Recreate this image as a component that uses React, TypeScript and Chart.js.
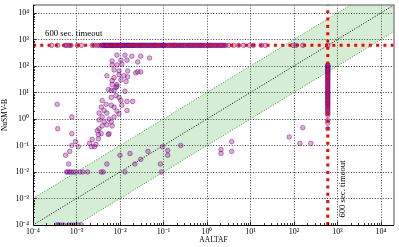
import React, { useEffect, useRef } from 'react';
import { Chart, registerables } from 'chart.js';

Chart.register(...registerables);

const TIMEOUT = 600;
const AXIS_MIN = 1e-4;
const AXIS_MAX = 2e4;
const BAND = 10;
const FONT = 'Liberation Serif';

const tickValues = [1e-4, 1e-3, 1e-2, 1e-1, 1, 10, 100, 1e3, 1e4];
const tickLabels = ['10⁻⁴', '10⁻³', '10⁻²', '10⁻¹', '10⁰', '10¹', '10²', '10³', '10⁴'];

// AALTAF time when NuSMV-B hit the 600 s timeout
const nusmvTimeoutAaltaf = [
  2.7e-4, 3.7e-4, 5.5e-4, 6e-4, 6.8e-4, 7.5e-4, 1.05e-3, 1.3e-3, 2.3e-3, 2.6e-3, 3e-3, 3.4e-3,
  0.0038, 0.0042, 0.0046, 0.005, 0.0055, 0.006, 0.0066, 0.0072, 0.008, 0.0088, 0.0097, 0.011,
  0.012, 0.013, 0.015, 0.016, 0.018, 0.02, 0.022, 0.025, 0.028, 0.031, 0.035, 0.039, 0.044,
  0.05, 0.056, 0.063, 0.07, 0.08, 0.09, 0.1, 0.11, 0.13, 0.15, 0.17, 0.19, 0.22, 0.25, 0.28,
  0.32, 0.37, 0.42, 0.48, 0.55, 0.63, 0.72, 0.82, 0.95, 1.1, 1.25, 1.45, 1.7, 2, 2.3, 2.7, 3.2,
  0.004, 0.0044, 0.0048, 0.0052, 0.0058, 0.0063, 0.0069, 0.0076, 0.0084, 0.0092, 0.0102, 0.0115,
  0.0125, 0.014, 0.0155, 0.017, 0.019, 0.021, 0.0235, 0.0265, 0.03, 0.033, 0.037, 0.042, 0.047,
  0.053, 0.06, 0.066, 0.075, 0.085, 0.095, 0.105, 0.12, 0.14, 0.16, 0.18, 0.2, 0.23, 0.26, 0.3,
  0.35, 0.4, 0.45, 0.52, 0.6, 0.68, 0.77, 0.9, 1.05, 1.2, 1.35, 1.6, 1.85, 2.15, 2.5,
  4.1, 5.3, 6.9, 9.5, 11.7, 17.8, 22, 95, 112, 160, 600,
];

// NuSMV-B time when AALTAF hit the 600 s timeout
const aaltafTimeoutNusmv = [
  110, 95, 80, 68, 58, 48, 40, 33, 27, 22, 18, 15, 12, 10, 8.5, 7, 5.8, 4.8, 4, 3.3, 2.6, 2.1,
  1.6, 105, 88, 74, 63, 53, 44, 36, 30, 25, 20, 16.5, 13.5, 11, 9, 7.5, 6.3, 5.2, 4.3, 3.6, 2.9,
  2.3, 1.8, 1.4, 0.9, 0.7, 0.43,
];

// Instances solved by both tools: AALTAF time / NuSMV-B time (pairwise)
const bothAaltaf = [
  8.5e-3, 0.013, 0.0187, 0.03, 0.048, 6.6e-3, 0.0105, 0.0145, 0.0256, 6.6e-3, 8.5e-3, 0.011,
  7.3e-3, 9.5e-3, 0.015, 0.023, 0.03, 9.5e-3, 0.0123, 5e-3, 7.3e-3, 0.0105, 0.015, 0.0138,
  6.6e-3, 6.6e-3, 8.5e-3, 8.1e-3, 8.5e-3, 5.4e-3, 6.3e-3, 7.3e-3, 0.013, 8.1e-3, 9.5e-3, 6.3e-3,
  3.9e-3, 0.0105, 0.0145, 4.8e-3, 6.3e-3, 3.7e-3, 7.3e-3, 0.011, 0.0145, 4.3e-3, 3.3e-3, 5e-3,
  8.5e-3, 9.5e-3, 3.9e-3, 5.6e-3, 7.3e-3, 3.3e-3, 4.3e-3, 6.3e-3, 3.3e-3, 3.9e-3, 5e-3, 6.6e-3,
  5.6e-3, 3.0e-3, 3.7e-3, 0.0196, 0.0256,
  3.6e-4, 7.8e-4, 3.7e-4, 7.8e-4, 9.5e-4, 7.8e-4, 1.1e-3, 7e-4, 5.6e-4, 6.6e-4, 2.3e-3, 2e-3,
  2.2e-3, 2.6e-3, 2.8e-3, 3.2e-3, 3.2e-3, 5.4e-3,
  5.9e-4, 6.3e-4, 6.9e-4, 7.5e-4, 8.5e-4, 9.5e-4, 1.2e-3, 1.4e-3, 1.8e-3, 3.7e-3, 4.1e-3, 0.013, 0.09,
  3.5e-4, 3.8e-4, 4.2e-4, 5e-4, 6.5e-4, 7.5e-4, 9e-4, 1.1e-3, 1.3e-3,
  0.01, 0.017, 0.005, 0.022, 0.03, 0.044, 0.085, 0.095, 0.125, 0.125, 0.25, 2.1, 2.1, 3.7, 3.7,
  78, 160, 137, 245,
];
const bothNusmv = [
  257, 257, 234, 234, 200, 155, 166, 166, 141, 110, 110, 118,
  71, 65, 65, 55, 60, 47, 43, 43, 36, 30, 39, 26,
  28, 20, 20, 15.4, 17, 13, 11.8, 11.8, 11, 7.7, 6.5, 6.5,
  5, 5, 4.6, 3.6, 3.3, 2.8, 2.8, 3.3, 2.1, 2.1, 1.67, 1.67,
  2, 1.55, 1.2, 1, 1.2, 0.92, 0.78, 0.78, 0.43, 0.55, 0.6, 0.55,
  0.28, 0.36, 0.28, 4.6, 60,
  3.6, 1.2, 0.43, 0.28, 0.14, 0.1, 0.09, 0.06, 0.043, 0.02, 0.17, 0.12,
  0.09, 0.09, 0.11, 0.18, 0.26, 0.26,
  0.01, 0.01, 0.01, 0.01, 0.01, 0.01, 0.01, 0.01, 0.01, 0.01, 0.01, 0.01, 0.01,
  1e-4, 1e-4, 1e-4, 1e-4, 1e-4, 1e-4, 1e-4, 1e-4, 1e-4,
  0.043, 0.05, 0.02, 0.02, 0.03, 0.06, 0.02, 0.09, 0.065, 0.043, 0.1, 0.07, 0.05, 0.14, 0.06,
  0.21, 0.47, 0.12, 0.12,
];

const labelFor = (v: number) => {
  const i = tickValues.findIndex((t) => Math.abs(Math.log10(t) - Math.log10(v)) < 1e-6);
  return i >= 0 ? tickLabels[i] : '';
};

const decorPlugin = {
  id: 'decor',
  beforeDatasetsDraw(chart: any) {
    const { ctx, chartArea: a, scales } = chart;
    const x = scales.x;
    const y = scales.y;
    ctx.save();
    ctx.strokeStyle = 'rgba(0,0,0,0.75)';
    ctx.lineWidth = 1;
    ctx.setLineDash([1, 1.65]);
    tickValues.forEach((v) => {
      const px = Math.round(x.getPixelForValue(v)) + 0.5;
      if (px > a.left + 1 && px < a.right - 1) {
        ctx.beginPath();
        ctx.moveTo(px, a.top);
        ctx.lineTo(px, a.bottom);
        ctx.stroke();
      }
      const py = Math.round(y.getPixelForValue(v)) + 0.5;
      if (py > a.top + 1 && py < a.bottom - 1) {
        ctx.beginPath();
        ctx.moveTo(a.left, py);
        ctx.lineTo(a.right, py);
        ctx.stroke();
      }
    });
    ctx.restore();
  },
  afterDraw(chart: any) {
    const { ctx, chartArea: a, scales } = chart;
    const x = scales.x;
    const y = scales.y;
    ctx.save();
    // frame
    ctx.strokeStyle = '#8a8a8a';
    ctx.lineWidth = 1.5;
    ctx.beginPath();
    ctx.moveTo(a.left, a.top);
    ctx.lineTo(a.right, a.top);
    ctx.lineTo(a.right, a.bottom);
    ctx.stroke();
    ctx.strokeStyle = '#000';
    ctx.lineWidth = 1;
    ctx.beginPath();
    ctx.moveTo(a.left + 0.5, a.top);
    ctx.lineTo(a.left + 0.5, a.bottom + 0.5);
    ctx.lineTo(a.right, a.bottom + 0.5);
    ctx.stroke();
    // ticks (major + minor, inward)
    ctx.lineWidth = 0.8;
    for (let d = -4; d <= 4; d++) {
      for (let k = 1; k <= 9; k++) {
        const v = k * Math.pow(10, d);
        const len = k === 1 ? 3.5 : 2;
        const px = Math.round(x.getPixelForValue(v)) + 0.5;
        if (px >= a.left && px <= a.right) {
          ctx.beginPath();
          ctx.moveTo(px, a.bottom);
          ctx.lineTo(px, a.bottom - len);
          ctx.stroke();
        }
        const py = Math.round(y.getPixelForValue(v)) + 0.5;
        if (py >= a.top && py <= a.bottom) {
          ctx.beginPath();
          ctx.moveTo(a.left, py);
          ctx.lineTo(a.left + len, py);
          ctx.stroke();
        }
      }
    }
    // annotations
    ctx.fillStyle = '#000';
    ctx.font = `8.7px "${FONT}"`;
    ctx.textAlign = 'left';
    ctx.textBaseline = 'middle';
    ctx.fillText('600 sec. timeout', x.getPixelForValue(1.9e-4), y.getPixelForValue(TIMEOUT) - 12);
    ctx.translate(x.getPixelForValue(TIMEOUT) + 14.5, a.bottom - 36);
    ctx.rotate(-Math.PI / 2);
    ctx.textAlign = 'center';
    ctx.fillText('600 sec. timeout', 0, 0);
    ctx.restore();
  },
};

export default function App() {
  const canvasRef = useRef<HTMLCanvasElement | null>(null);

  useEffect(() => {
    document.body.style.margin = '0';
    const canvas = canvasRef.current;
    if (!canvas) return;

    const points = [
      ...nusmvTimeoutAaltaf.map((v) => ({ x: v, y: TIMEOUT })),
      ...aaltafTimeoutNusmv.map((v) => ({ x: TIMEOUT, y: v })),
      ...bothAaltaf.map((v, i) => ({ x: v, y: bothNusmv[i] })),
    ];

    const lineBase = { type: 'line' as const, pointRadius: 0, tension: 0, fill: false };

    const chart = new Chart(canvas, {
      type: 'scatter',
      data: {
        datasets: [
          {
            ...lineBase,
            data: [{ x: AXIS_MIN, y: TIMEOUT }, { x: AXIS_MAX, y: TIMEOUT }],
            borderColor: '#ff0000',
            borderWidth: 3,
            borderDash: [3, 4.3],
            order: 0,
          },
          {
            ...lineBase,
            data: [{ x: TIMEOUT, y: AXIS_MIN }, { x: TIMEOUT, y: AXIS_MAX }],
            borderColor: '#ff0000',
            borderWidth: 3,
            borderDash: [3, 4.3],
            order: 0,
          },
          {
            type: 'scatter',
            data: points,
            pointRadius: 2.3,
            pointBorderWidth: 1,
            backgroundColor: 'rgba(255,0,0,0.35)',
            borderColor: 'rgba(0,0,255,0.4)',
            clip: 0,
            order: 1,
          },
          {
            ...lineBase,
            data: [{ x: AXIS_MIN, y: AXIS_MIN }, { x: AXIS_MAX, y: AXIS_MAX }],
            borderColor: '#000',
            borderWidth: 1,
            borderDash: [1, 1.65],
            order: 2,
          },
          {
            ...lineBase,
            data: [{ x: AXIS_MIN, y: AXIS_MIN * BAND }, { x: AXIS_MAX, y: AXIS_MAX * BAND }],
            borderColor: '#2ca02c',
            borderWidth: 1,
            borderDash: [1, 1.65],
            fill: '+1',
            backgroundColor: 'rgba(44,160,44,0.2)',
            order: 3,
          },
          {
            ...lineBase,
            data: [{ x: AXIS_MIN, y: AXIS_MIN / BAND }, { x: AXIS_MAX, y: AXIS_MAX / BAND }],
            borderColor: '#2ca02c',
            borderWidth: 1,
            borderDash: [1, 1.65],
            order: 3,
          },
        ] as any,
      },
      options: {
        animation: false,
        responsive: false,
        devicePixelRatio: 1,
        layout: { padding: { left: 0, right: 1, top: 1, bottom: 0 } },
        plugins: { legend: { display: false }, tooltip: { enabled: false } },
        scales: {
          x: {
            type: 'logarithmic',
            min: AXIS_MIN,
            max: AXIS_MAX,
            bounds: 'data',
            grid: { display: false, drawTicks: false },
            border: { display: false },
            ticks: {
              autoSkip: false,
              maxRotation: 0,
              padding: 2,
              color: '#000',
              font: { family: FONT, size: 8 },
              callback: (v: any) => labelFor(Number(v)),
            },
            title: {
              display: true,
              text: 'AALTAF',
              color: '#000',
              font: { family: FONT, size: 7.5 },
              padding: { top: 0, bottom: 2.5 },
            },
            afterBuildTicks: (s: any) => {
              s.ticks = tickValues.map((v) => ({ value: v }));
            },
            afterFit: (s: any) => {
              s.height = 22;
              s.paddingLeft = 0;
              s.paddingRight = 0;
            },
          },
          y: {
            type: 'logarithmic',
            min: AXIS_MIN,
            max: AXIS_MAX,
            bounds: 'data',
            grid: { display: false, drawTicks: false },
            border: { display: false },
            ticks: {
              autoSkip: false,
              padding: 4,
              color: '#000',
              font: { family: FONT, size: 8 },
              callback: (v: any) => labelFor(Number(v)),
            },
            title: {
              display: true,
              text: 'NuSMV-B',
              color: '#000',
              font: { family: FONT, size: 7.5 },
              padding: { top: 0.5, bottom: 0 },
            },
            afterBuildTicks: (s: any) => {
              s.ticks = tickValues.map((v) => ({ value: v }));
            },
            afterFit: (s: any) => {
              s.width = 33;
              s.paddingTop = 0;
              s.paddingBottom = 0;
            },
          },
        },
      } as any,
      plugins: [decorPlugin],
    });

    return () => chart.destroy();
  }, []);

  return (
    <div style={{ width: 399, height: 247 }}>
      <canvas ref={canvasRef} width={399} height={247} style={{ display: 'block' }} />
    </div>
  );
}
